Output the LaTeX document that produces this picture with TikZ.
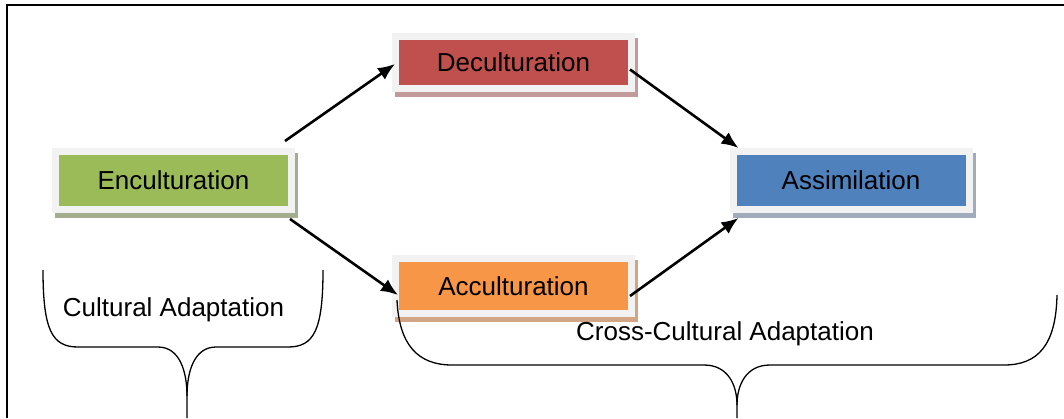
\documentclass[tikz,border=0pt]{standalone}
\usepackage{fontspec}
\setmainfont{Liberation Sans}
\usetikzlibrary{arrows.meta,backgrounds}

\definecolor{framegray}{HTML}{F2F2F2}
\definecolor{encgreen}{HTML}{9BBB59}
\definecolor{decred}{HTML}{C0504D}
\definecolor{accorange}{HTML}{F79646}
\definecolor{assblue}{HTML}{4F81BD}
\definecolor{encshadow}{HTML}{A4AD8E}
\definecolor{decshadow}{HTML}{C39A9A}
\definecolor{accshadow}{HTML}{D2A584}
\definecolor{assshadow}{HTML}{A2ABBC}

\begin{document}
\begin{tikzpicture}[x=1pt,y=-1pt,
  stagebox/.style={draw=framegray, line width=7pt, minimum width=236pt,
    inner sep=0pt, font=\fontsize{26}{30}\selectfont, text=black},
  flow/.style={line width=2.6pt, -{Latex[length=17pt,width=14pt]}},
  bracepath/.style={line width=1.3pt},
  caption/.style={font=\fontsize{26}{30}\selectfont, anchor=base}]

\useasboundingbox (0,0) rectangle (1064,418);
\begin{scope}[on background layer]
  \fill[white] (0,0) rectangle (1064,418);
\end{scope}

% outer frame (open to the right and bottom)
\draw[line width=2pt] (7,418) -- (7,5) -- (1064,5);

% stages
\node[stagebox, fill=encgreen,  minimum height=58pt] (enc) at (173.5,180.5) {Enculturation};
\node[stagebox, fill=decred,    minimum height=52pt] (dec) at (513.5,62.5)  {Deculturation};
\node[stagebox, fill=accorange, minimum height=55pt] (acc) at (513.5,286)   {Acculturation};
\node[stagebox, fill=assblue,   minimum height=58pt] (ass) at (851,180.5)   {Assimilation};

% drop shadows behind the stages
\begin{scope}[on background layer]
  \foreach \n/\c in {enc/encshadow, dec/decshadow, acc/accshadow, ass/assshadow}
    \fill[\c] ([shift={(3,5)}]\n.north west) rectangle ([shift={(3,5)}]\n.south east);
\end{scope}

% transitions
\draw[flow] ([shift={(-10,-7)}]enc.north east) -- ([shift={(3,1.5)}]dec.west);
\draw[flow] ([shift={(-5,6)}]enc.south east) -- ([shift={(6,9)}]acc.west);
\draw[flow] ([shift={(-5,7)}]dec.east) -- ([shift={(9,0)}]ass.north west);
\draw[flow] ([shift={(-5,10)}]acc.east) -- ([shift={(9,5)}]ass.south west);

% brace under Enculturation
\coordinate (tipA) at (187,418);
\draw[bracepath] (43,270) .. controls (43,330) and (52,347) .. (78,347) -- (158,347)
  .. controls (180,347) and (187,372) .. (187,396) -- (tipA);
\draw[bracepath] (323,270) .. controls (323,330) and (314,347) .. (288,347) -- (216,347)
  .. controls (194,347) and (187,372) .. (187,396);
\node[caption] (ca) at (173.5,316) {Cultural Adaptation};

% brace under Deculturation / Acculturation / Assimilation
\coordinate (tipB) at (737,418);
\draw[bracepath] (397,300) .. controls (399,345) and (418,365) .. (452,365) -- (704,365)
  .. controls (728,365) and (737,385) .. (737,405) -- (tipB);
\draw[bracepath] (1057,295) .. controls (1056,345) and (1038,365) .. (1004,365) -- (770,365)
  .. controls (746,365) and (737,385) .. (737,405);
\node[caption] (cca) at (725,340) {Cross-Cultural Adaptation};

\end{tikzpicture}
\end{document}
